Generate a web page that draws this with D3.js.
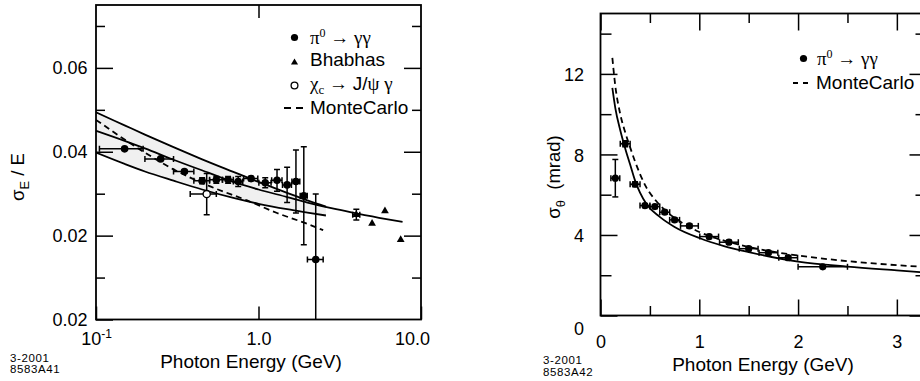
<!DOCTYPE html>
<html>
<head>
<meta charset="utf-8">
<script src="https://cdn.jsdelivr.net/npm/d3@7"></script>
<style>
    body { margin: 0; background: #fff; }
    svg { display: block; }
    text { font-family: "Liberation Sans", Arial, Helvetica, sans-serif; fill: #000; }
    .greek { font-family: "Liberation Serif", "Times New Roman", serif; fill: #000; }
</style>
</head>
<body>
<svg id="chart" width="920" height="381"></svg>
<script>

// ---- pi0 -> gamma gamma points (shared energy bins) ----
const pi0E     = [0.15, 0.25, 0.35, 0.45, 0.55, 0.65, 0.75, 0.9, 1.1, 1.3, 1.5, 1.7, 1.9, 2.25];
const pi0EHalf = [0.045, 0.05, 0.05, 0.05, 0.05, 0.05, 0.05, 0.09, 0.095, 0.095, 0.095, 0.095, 0.095, 0.25];
const pi0SigE    = [0.0407, 0.0383, 0.0353, 0.0331, 0.0333, 0.0333, 0.0329, 0.0336, 0.0326, 0.0332, 0.0321, 0.0329, 0.0295, 0.0143];
const pi0SigEErr = [0.0003, 0.0003, 0.0004, 0.0007, 0.0008, 0.0008, 0.0012, 0.0005, 0.0012, 0.0026, 0.0042, 0.0075, 0.0117, 0.0156];
const pi0SigTh    = [6.82, 8.53, 6.52, 5.46, 5.41, 5.13, 4.75, 4.45, 3.92, 3.64, 3.32, 3.12, 2.87, 2.42];
const pi0SigThErr = [0.93, 0.15, 0.12, 0.1, 0.1, 0.1, 0.1, 0.1, 0.1, 0.1, 0.1, 0.1, 0.1, 0.05];

// Bhabhas
const bhabhaE     = [4.0, 5.0, 6.0, 7.5];
const bhabhaEHalf = [0.2, 0, 0, 0];
const bhabhaSig   = [0.0250, 0.0229, 0.0259, 0.0190];
const bhabhaErr   = [0.0013, 0, 0, 0];

// chi_c -> J/psi gamma
const chiE   = [0.48];
const chiELo = [0.38];
const chiEHi = [0.55];
const chiSig = [0.0299];
const chiErr = [0.0049];

// ---- left panel curves ----
const fitE = [0.1, 0.15, 0.2, 0.3, 0.5, 0.7, 1.0, 1.5, 2.0, 3.0, 4.0, 6.0, 7.7];
const fitV = [0.0450, 0.0426, 0.0408, 0.0381, 0.0349, 0.0328, 0.0310, 0.0292, 0.0279, 0.0263, 0.0253, 0.0240, 0.0233];
const bandE  = [0.1, 0.15, 0.2, 0.3, 0.45, 0.7, 1.0, 1.5, 2.0, 2.6];
const bandHi = [0.0494, 0.0463, 0.0441, 0.0411, 0.0382, 0.0352, 0.0328, 0.0302, 0.0284, 0.0269];
const bandLo = [0.0398, 0.0371, 0.0353, 0.0331, 0.0310, 0.0290, 0.0276, 0.0263, 0.0255, 0.0248];
const mcLeftE = [0.1, 0.2, 0.3, 0.5, 0.85, 1.3, 2.0, 2.5];
const mcLeftV = [0.0476, 0.0398, 0.0358, 0.0318, 0.0284, 0.0254, 0.0228, 0.0213];

// ---- right panel curves ----
const fitThE = [0.12, 0.15, 0.2, 0.25, 0.3, 0.35, 0.4, 0.47, 0.6, 0.75, 1.0, 1.25, 1.5, 2.0, 2.5, 3.0, 3.3];
const fitThV = [11.3, 10.3, 9.2, 8.3, 7.5, 6.7, 6.1, 5.5, 4.9, 4.4, 3.85, 3.45, 3.15, 2.68, 2.43, 2.24, 2.13];
const mcThE = [0.12, 0.15, 0.2, 0.25, 0.3, 0.35, 0.46, 0.57, 0.75, 0.9, 1.0, 1.3, 1.6, 2.0, 2.5, 3.0, 3.3];
const mcThV = [12.8, 11.4, 10.0, 9.1, 8.35, 7.65, 6.4, 5.65, 4.85, 4.4, 4.15, 3.65, 3.3, 2.98, 2.7, 2.5, 2.41];

// ---- ticks ----
const leftYMajor  = [0, 0.02, 0.04, 0.06];
const leftYLabels = ["0.02", "0.02", "0.04", "0.06"];
const leftYMinor  = [0.01, 0.03, 0.05, 0.07];
const leftXMajor  = [0.1, 1, 10];
const leftXLabels = ["10", "1.0", "10.0"];
const rightYMajor  = [0, 4, 8, 12];
const rightYLabels = ["0", "4", "8", "12"];
const rightYMinor  = [2, 6, 10, 14];
const rightXMajor  = [0, 1, 2, 3];
const rightXLabels = ["0", "1", "2", "3"];
const rightXMinor  = [0.5, 1.5, 2.5];

const svg = d3.select("#chart");

// tick helper: inward ticks, no domain line
function ticks(g, axisFn, scale, values, size, labels, pad, fontSize) {
    g.call(axisFn(scale).tickValues(values).tickSizeInner(-size).tickSizeOuter(0)
        .tickPadding(pad || 0)
        .tickFormat(labels ? ((d, i) => labels[i]) : ""));
    g.select(".domain").remove();
    g.selectAll("line").attr("stroke-width", 1.5);
    g.attr("font-size", fontSize || 18).attr("font-family", null);
    return g;
}

function errorPoints(g, rows, x, y, cap) {
    let eg = g.append("g").attr("stroke", "#000").attr("stroke-width", 1.5);
    rows.forEach(r => {
        let cx = x(r.e), cy = y(r.v);
        if (r.lo !== r.hi) {
            let a = x(r.lo), b = x(r.hi);
            eg.append("line").attr("x1", a).attr("x2", b).attr("y1", cy).attr("y2", cy);
            eg.append("line").attr("x1", a).attr("x2", a).attr("y1", cy - cap).attr("y2", cy + cap);
            eg.append("line").attr("x1", b).attr("x2", b).attr("y1", cy - cap).attr("y2", cy + cap);
        }
        if (r.err > 0) {
            let t = y(r.v + r.err), bt = y(r.v - r.err);
            eg.append("line").attr("x1", cx).attr("x2", cx).attr("y1", t).attr("y2", bt);
            eg.append("line").attr("x1", cx - cap).attr("x2", cx + cap).attr("y1", t).attr("y2", t);
            eg.append("line").attr("x1", cx - cap).attr("x2", cx + cap).attr("y1", bt).attr("y2", bt);
        }
    });
}

// =================== LEFT PANEL ===================
let xL = d3.scaleLog().domain([0.1, 10]).range([96, 421]);
let yL = d3.scaleLinear().domain([0, 0.075]).range([319.5, 5]);

let left = svg.append("g");
left.append("defs").append("clipPath").attr("id", "clipL")
    .append("rect").attr("x", 96).attr("y", 5).attr("width", 325).attr("height", 314.5);

let plotL = left.append("g").attr("clip-path", "url(#clipL)");

// shaded band
let bandRows = bandE.map((e, i) => ({e: e, hi: bandHi[i], lo: bandLo[i]}));
plotL.append("path").datum(bandRows)
    .attr("fill", "#f0f0f0")
    .attr("d", d3.area().x(d => xL(d.e)).y0(d => yL(d.lo)).y1(d => yL(d.hi)).curve(d3.curveMonotoneX));

let lineL = d3.line().x(d => xL(d.e)).y(d => yL(d.v)).curve(d3.curveMonotoneX);
plotL.append("path").datum(bandRows.map(d => ({e: d.e, v: d.hi})))
    .attr("fill", "none").attr("stroke", "#000").attr("stroke-width", 1.8).attr("d", lineL);
plotL.append("path").datum(bandRows.map(d => ({e: d.e, v: d.lo})))
    .attr("fill", "none").attr("stroke", "#000").attr("stroke-width", 1.8).attr("d", lineL);
plotL.append("path").datum(fitE.map((e, i) => ({e: e, v: fitV[i]})))
    .attr("fill", "none").attr("stroke", "#000").attr("stroke-width", 1.8).attr("d", lineL);
plotL.append("path").datum(mcLeftE.map((e, i) => ({e: e, v: mcLeftV[i]})))
    .attr("fill", "none").attr("stroke", "#000").attr("stroke-width", 1.8)
    .attr("stroke-dasharray", "6,4").attr("d", lineL);

// pi0 points
let pi0RowsL = pi0E.map((e, i) => ({e: e, v: pi0SigE[i], err: pi0SigEErr[i], lo: e - pi0EHalf[i], hi: e + pi0EHalf[i]}));
errorPoints(plotL, pi0RowsL, xL, yL, 3);
plotL.selectAll(".pi0L").data(pi0RowsL).join("circle")
    .attr("cx", d => xL(d.e)).attr("cy", d => yL(d.v)).attr("r", 3.8).attr("fill", "#000");

// bhabhas
let bhRows = bhabhaE.map((e, i) => ({e: e, v: bhabhaSig[i], err: bhabhaErr[i], lo: e - bhabhaEHalf[i], hi: e + bhabhaEHalf[i]}));
errorPoints(plotL, bhRows, xL, yL, 3);
plotL.selectAll(".bh").data(bhRows).join("path")
    .attr("transform", d => "translate(" + xL(d.e) + "," + yL(d.v) + ")")
    .attr("d", d3.symbol(d3.symbolTriangle).size(26)).attr("fill", "#000");

// chi_c
let chiRows = chiE.map((e, i) => ({e: e, v: chiSig[i], err: chiErr[i], lo: chiELo[i], hi: chiEHi[i]}));
errorPoints(plotL, chiRows, xL, yL, 3);
plotL.selectAll(".chi").data(chiRows).join("circle")
    .attr("cx", d => xL(d.e)).attr("cy", d => yL(d.v)).attr("r", 3.6)
    .attr("fill", "#fff").attr("stroke", "#000").attr("stroke-width", 1.3);

// axes
ticks(left.append("g").attr("transform", "translate(96,0)"), d3.axisLeft, yL, leftYMajor, 17, leftYLabels, 8.5);
ticks(left.append("g").attr("transform", "translate(96,0)"), d3.axisLeft, yL, leftYMinor, 9);
ticks(left.append("g").attr("transform", "translate(421,0)"), d3.axisRight, yL, leftYMajor.slice(1), 17);
ticks(left.append("g").attr("transform", "translate(421,0)"), d3.axisRight, yL, leftYMinor, 9);
ticks(left.append("g").attr("transform", "translate(0,5)"), d3.axisTop, xL, [1], 13);
let bxL = ticks(left.append("g").attr("transform", "translate(0,319.5)"), d3.axisBottom, xL, leftXMajor, 13, leftXLabels, 13);
bxL.selectAll("text").each(function(d, i) {
    if (i === 0) d3.select(this).append("tspan").attr("dy", -7).attr("font-size", 12).text("-1");
    if (i === 2) d3.select(this).attr("dx", -9);
});

left.append("rect").attr("x", 96).attr("y", 5).attr("width", 325).attr("height", 314.5)
    .attr("fill", "none").attr("stroke", "#000").attr("stroke-width", 1.8);

// titles
left.append("text").attr("x", 251).attr("y", 368).attr("text-anchor", "middle").attr("font-size", 19)
    .text("Photon Energy (GeV)");
let ytL = left.append("text").attr("transform", "translate(24,177) rotate(-90)")
    .attr("text-anchor", "middle").attr("font-size", 18.5);
ytL.append("tspan").text("\u03c3");
ytL.append("tspan").attr("dy", 5).attr("font-size", 13).text("E");
ytL.append("tspan").attr("dy", -5).text(" / E");
left.append("text").attr("x", 10).attr("y", 361.5).attr("font-size", 11.5).attr("letter-spacing", 0.6).text("3-2001");
left.append("text").attr("x", 10).attr("y", 373).attr("font-size", 11.5).attr("letter-spacing", 0.6).text("8583A41");

// legend
let legL = left.append("g").attr("font-size", 19);
legL.append("circle").attr("cx", 294.5).attr("cy", 37.5).attr("r", 3.6).attr("fill", "#000");
let t1 = legL.append("text").attr("x", 310).attr("y", 43.5);
t1.append("tspan").attr("class", "greek").text("\u03c0");
t1.append("tspan").attr("class", "greek").attr("dy", -7).attr("font-size", 12).text("0");
t1.append("tspan").attr("class", "greek").attr("dy", 7).text(" \u2192 \u03b3\u03b3");
legL.append("path").attr("transform", "translate(294.5,62.5)")
    .attr("d", d3.symbol(d3.symbolTriangle).size(22)).attr("fill", "#000");
legL.append("text").attr("x", 310).attr("y", 66).text("Bhabhas");
legL.append("circle").attr("cx", 294.5).attr("cy", 85.5).attr("r", 3.4)
    .attr("fill", "#fff").attr("stroke", "#000").attr("stroke-width", 1.3);
let t3 = legL.append("text").attr("x", 310).attr("y", 90);
t3.append("tspan").attr("class", "greek").text("\u03c7");
t3.append("tspan").attr("class", "greek").attr("dy", 4).attr("font-size", 13).text("c");
t3.append("tspan").attr("class", "greek").attr("dy", -4).text(" \u2192 ");
t3.append("tspan").text("J/");
t3.append("tspan").attr("class", "greek").text("\u03c8 \u03b3");
legL.append("line").attr("x1", 284).attr("x2", 304).attr("y1", 108).attr("y2", 108)
    .attr("stroke", "#000").attr("stroke-width", 1.8).attr("stroke-dasharray", "7,5");
legL.append("text").attr("x", 310).attr("y", 114).text("MonteCarlo");

// =================== RIGHT PANEL ===================
let xR = d3.scaleLinear().domain([0, 3.3]).range([600.5, 926.5]);
let yR = d3.scaleLinear().domain([0, 15]).range([315.5, 13.5]);

let right = svg.append("g");
let lineR = d3.line().x(d => xR(d.e)).y(d => yR(d.v)).curve(d3.curveMonotoneX);

right.append("path").datum(fitThE.map((e, i) => ({e: e, v: fitThV[i]})))
    .attr("fill", "none").attr("stroke", "#000").attr("stroke-width", 1.8).attr("d", lineR);
right.append("path").datum(mcThE.map((e, i) => ({e: e, v: mcThV[i]})))
    .attr("fill", "none").attr("stroke", "#000").attr("stroke-width", 1.8)
    .attr("stroke-dasharray", "6,4").attr("d", lineR);

let pi0RowsR = pi0E.map((e, i) => ({e: e, v: pi0SigTh[i], err: pi0SigThErr[i], lo: e - pi0EHalf[i], hi: e + pi0EHalf[i]}));
errorPoints(right, pi0RowsR, xR, yR, 3);
right.selectAll(".pi0R").data(pi0RowsR).join("circle")
    .attr("cx", d => xR(d.e)).attr("cy", d => yR(d.v)).attr("r", 3.6).attr("fill", "#000");

// axes
let lyR = ticks(right.append("g").attr("transform", "translate(600.5,0)"), d3.axisLeft, yR, rightYMajor, 17, rightYLabels, 16.5);
lyR.selectAll("text").attr("dy", (d, i) => i === 0 ? "1.05em" : "0.38em");
ticks(right.append("g").attr("transform", "translate(600.5,0)"), d3.axisLeft, yR, rightYMinor, 11);
ticks(right.append("g").attr("transform", "translate(926.5,0)"), d3.axisRight, yR, rightYMajor, 17);
ticks(right.append("g").attr("transform", "translate(926.5,0)"), d3.axisRight, yR, rightYMinor, 11);
ticks(right.append("g").attr("transform", "translate(0,13.5)"), d3.axisTop, xR, rightXMajor, 17);
ticks(right.append("g").attr("transform", "translate(0,13.5)"), d3.axisTop, xR, rightXMinor, 9.5);
ticks(right.append("g").attr("transform", "translate(0,315.5)"), d3.axisBottom, xR, rightXMajor, 16, rightXLabels, 20);
ticks(right.append("g").attr("transform", "translate(0,315.5)"), d3.axisBottom, xR, rightXMinor, 9.5);

right.append("rect").attr("x", 600.5).attr("y", 13.5).attr("width", 326).attr("height", 302)
    .attr("fill", "none").attr("stroke", "#000").attr("stroke-width", 1.8);

right.append("text").attr("x", 763).attr("y", 371).attr("text-anchor", "middle").attr("font-size", 19)
    .text("Photon Energy (GeV)");
let ytR = right.append("text").attr("transform", "translate(560,177) rotate(-90)")
    .attr("text-anchor", "middle").attr("font-size", 18.5);
ytR.append("tspan").text("\u03c3");
ytR.append("tspan").attr("dy", 5).attr("font-size", 13).text("\u03b8");
ytR.append("tspan").attr("dy", -5).text("\u00a0 (mrad)");
right.append("text").attr("x", 543).attr("y", 364).attr("font-size", 11.5).attr("letter-spacing", 0.6).text("3-2001");
right.append("text").attr("x", 543).attr("y", 375.5).attr("font-size", 11.5).attr("letter-spacing", 0.6).text("8583A42");

// legend
let legR = right.append("g").attr("font-size", 19);
legR.append("circle").attr("cx", 803.5).attr("cy", 58.5).attr("r", 3.6).attr("fill", "#000");
let r1 = legR.append("text").attr("x", 817).attr("y", 64.5);
r1.append("tspan").attr("class", "greek").text("\u03c0");
r1.append("tspan").attr("class", "greek").attr("dy", -7).attr("font-size", 12).text("0");
r1.append("tspan").attr("class", "greek").attr("dy", 7).text(" \u2192 \u03b3\u03b3");
legR.append("line").attr("x1", 793).attr("x2", 810).attr("y1", 83).attr("y2", 83)
    .attr("stroke", "#000").attr("stroke-width", 1.8).attr("stroke-dasharray", "5,5");
legR.append("text").attr("x", 816).attr("y", 89).text("MonteCarlo");

</script>
</body>
</html>
